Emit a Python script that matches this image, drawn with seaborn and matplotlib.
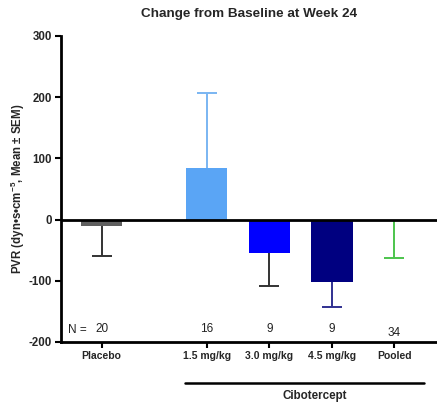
import numpy as np
import pandas as pd
import matplotlib
matplotlib.use("Agg")
import matplotlib.pyplot as plt
import matplotlib.transforms as mtransforms
import matplotlib.font_manager as fm
import seaborn as sns

# ---- data ----
groups = ["Placebo", "1.5 mg/kg", "3.0 mg/kg", "4.5 mg/kg", "Pooled"]
positions = [0.0, 1.68, 2.68, 3.68, 4.68]
means = [-10, 84, -55, -102, -1]
sem = [50, 123, 54, 41, 62]
n_counts = ["20", "16", "9", "9", "34"]
bar_colors = ["#5f5f5f", "#5aa5f5", "#0000ff", "#000080", "#3cb843"]
err_colors = ["#333333", "#7ab6f2", "#333333", "#303090", "#4cc44c"]

# avoid the condensed Liberation Sans Narrow being picked
fm.fontManager.ttflist = [f for f in fm.fontManager.ttflist
                          if "narrow" not in f.fname.lower()
                          and "narrow" not in f.name.lower()]
try:
    fm.fontManager._findfont_cached.cache_clear()
except Exception:
    pass

sns.set_theme(style="ticks")
plt.rcParams["font.family"] = ["Liberation Sans", "DejaVu Sans"]
plt.rcParams["mathtext.fontset"] = "custom"
plt.rcParams["mathtext.rm"] = "Liberation Sans"
plt.rcParams["mathtext.bf"] = "Liberation Sans:bold"
plt.rcParams["axes.unicode_minus"] = False

df = pd.DataFrame({"group": groups, "pos": positions, "mean": means})

fig = plt.figure(figsize=(4.37, 4.08), dpi=100)
ax = fig.add_axes([61 / 437, 1 - 342 / 408, 1 - 61 / 437, 306 / 408])

sns.barplot(data=df, x="pos", y="mean", hue="group", palette=bar_colors,
            native_scale=True, width=0.66, dodge=False, errorbar=None,
            legend=False, ax=ax, linewidth=0, saturation=1)

# one-sided error bars (stem + cap at the far end only)
for x, m, e, c in zip(positions, means, sem, err_colors):
    end = m - e if m < 0 else m + e
    ax.vlines(x, min(m, end), max(m, end), color=c, lw=1.4, zorder=3)
    ax.hlines(end, x - 0.16, x + 0.16, color=c, lw=1.4, zorder=3)

ax.axhline(0, color="black", lw=2, zorder=4)

ax.set_xlim(-0.65, 5.36)
ax.set_ylim(-200, 300)
ax.set_yticks([-200, -100, 0, 100, 200, 300])
ax.set_xticks(positions)
ax.set_xticklabels(groups, fontsize=7.5, fontweight="bold")
for lab in ax.get_yticklabels():
    lab.set_fontsize(8.3)
    lab.set_fontweight("bold")
ax.tick_params(axis="both", length=4.5, width=1.5, color="black", pad=2)
ax.set_xlabel("")
ax.set_ylabel(r"PVR (dyn•s•cm$^{\mathbf{-5}}$, Mean ± SEM)",
              fontsize=8.3, fontweight="bold", labelpad=1)
for s in ["top", "right"]:
    ax.spines[s].set_visible(False)
for s in ["left", "bottom"]:
    ax.spines[s].set_linewidth(2)
    ax.spines[s].set_color("black")

ax.set_title("Change from Baseline at Week 24", fontsize=9.7, fontweight="bold",
             pad=14, x=(249 - 61) / 376)

# N counts
ax.text(-0.54, -180, "N =", fontsize=8.5, color="#222222", ha="left", va="center")
for i, (x, n) in enumerate(zip(positions, n_counts)):
    y = -185 if i == 4 else -178
    ax.text(x, y, n, fontsize=8.5, color="#222222", ha="center", va="center")

# Cibotercept bracket
trans = mtransforms.blended_transform_factory(ax.transData, ax.transAxes)
ax.plot([1.33, 5.16], [-0.134, -0.134], color="black", lw=1.8,
        transform=trans, clip_on=False)
fig.text(315 / 437, 1 - 396 / 408, "Cibotercept", fontsize=8.4,
         fontweight="bold", ha="center", va="center")

fig.savefig("out.png", dpi=100)
